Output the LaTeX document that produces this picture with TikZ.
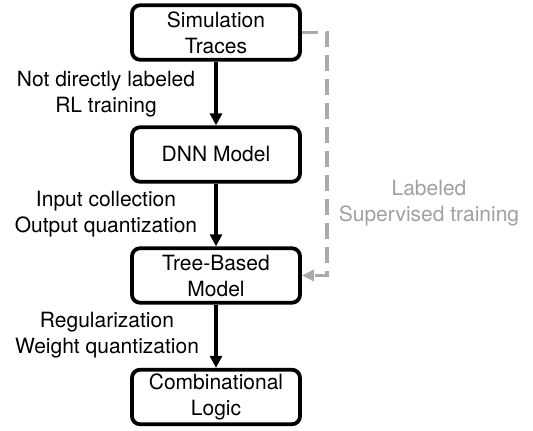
\documentclass[tikz,border=0pt]{standalone}
\usepackage{fontspec}
\setmainfont{TeX Gyre Heros}
\usetikzlibrary{arrows.meta}
\definecolor{dashgray}{RGB}{170,170,170}
\definecolor{labelgray}{RGB}{160,160,160}
\tikzset{
  stage/.style={draw=black, line width=3.8pt, rounded corners=8pt,
    minimum width=168pt, minimum height=54.5pt, align=center, inner sep=0pt,
    font=\fontsize{21}{26}\selectfont},
  note/.style={align=center, inner sep=0pt, font=\fontsize{21}{26}\selectfont},
  flow/.style={line width=3.6pt, -{Triangle[length=12pt,width=12pt]}},
  superv/.style={draw=dashgray, line width=3.8pt, dash pattern=on 16pt off 8pt,
    -{Triangle[length=12pt,width=11pt,fill=dashgray]}}
}
\begin{document}
\begin{tikzpicture}[x=1pt,y=-1pt]
  \useasboundingbox (0,0) rectangle (533,431);

  % pipeline stages
  \node[stage] (sim)  at (216,32.5)  {Simulation\\Traces};
  \node[stage] (dnn)  at (216,154.5) {DNN Model};
  \node[stage] (tree) at (216,275.5) {Tree-Based\\Model};
  \node[stage] (comb) at (216,397)   {Combinational\\Logic};

  % main flow
  \draw[flow] (sim)  -- (dnn);
  \draw[flow] (dnn)  -- (tree);
  \draw[flow] (tree) -- (comb);

  % step annotations
  \node[note] (n1) at (106,94)  {Not directly labeled\\RL training};
  \node[note] (n2) at (106,214) {Input collection\\Output quantization};
  \node[note] (n3) at (107,335) {Regularization\\Weight quantization};

  % supervised shortcut
  \coordinate (c1) at (327,32.5);
  \coordinate (c2) at (327,275.5);
  \draw[superv] (sim.east) -- (c1) -- (c2) -- (tree.east);
  \node[note, text=labelgray] (sup) at (429,203) {Labeled\\Supervised training};
\end{tikzpicture}
\end{document}
